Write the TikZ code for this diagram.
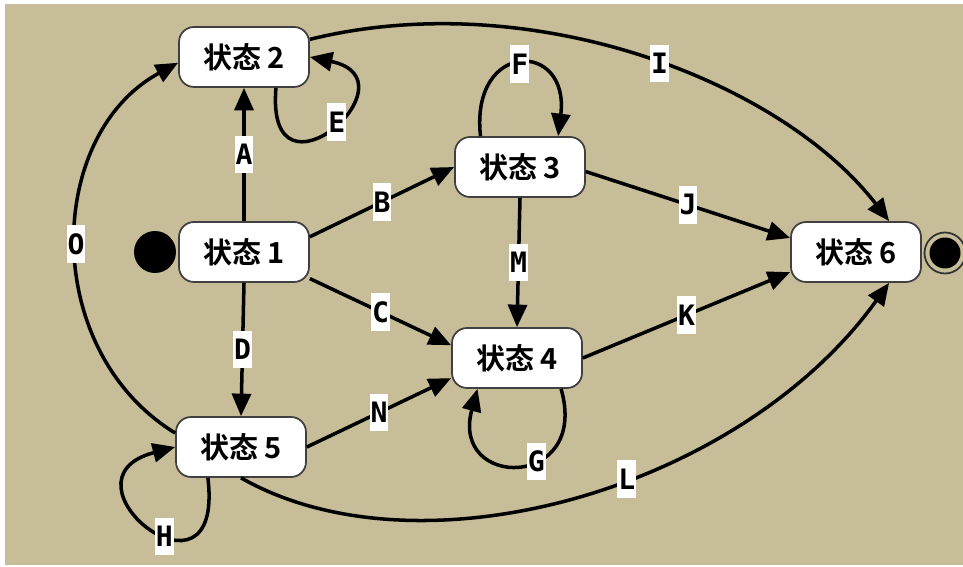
\documentclass[tikz,border=0pt]{standalone}
\usepackage{fontspec}
\usetikzlibrary{arrows.meta}
\newfontfamily\cjk{Noto Sans CJK SC}[BoldFont={* Bold}]
\newfontfamily\lblf{DejaVu Sans Mono}
\definecolor{bgtan}{RGB}{199,189,152}
\begin{document}
\begin{tikzpicture}[x=0.02cm,y=0.02cm,
  state/.style={draw=black!75, line width=1pt, fill=white, rounded corners=0.3cm,
    minimum width=2.6cm, minimum height=1.2cm, inner sep=0pt,
    font=\cjk\bfseries\fontsize{16.5}{18}\selectfont},
  edge/.style={line width=2pt, -{Triangle[length=0.45cm,width=0.38cm]}},
  lbl/.style={fill=white, inner xsep=0.5pt, inner ysep=0pt, minimum height=0.75cm,
    font=\lblf\bfseries\fontsize{16}{18}\selectfont, text=black}
]
\fill[white] (0,0) rectangle (963,-567);
\fill[bgtan] (5,-4) rectangle (963,-565);
\useasboundingbox (0,0) rectangle (963,-567);

\node[state] (s1) at (244,-252) {状态 1};
\node[state] (s2) at (244,-57) {状态 2};
\node[state] (s3) at (520,-167) {状态 3};
\node[state] (s4) at (517,-358) {状态 4};
\node[state] (s5) at (241,-447) {状态 5};
\node[state] (s6) at (856,-252) {状态 6};
\node[circle, fill=black, minimum size=0.84cm, inner sep=0pt] (init) at (155,-252) {};
\node[circle, draw=black!80, line width=1pt, minimum size=0.82cm, inner sep=0pt] (fin) at (945,-253) {};
\node[circle, fill=black, minimum size=0.62cm, inner sep=0pt] (finc) at (fin) {};

\draw[edge] (s1.north) -- node[lbl]{A} (s2.south);
\draw[edge] (s1.13) -- node[lbl]{B} (s3.west);
\draw[edge] (s1.-22) -- node[lbl]{C} (s4.169);
\draw[edge] (s1.south) -- node[lbl]{D} (s5.north);
\draw[edge] (s2.-44) .. controls (265,-215) and (420,-80) .. (s2.east) node[lbl,pos=0.55]{E};
\draw[edge] (s3.142) .. controls (470,-40) and (570,-40) .. (s3.39) node[lbl,pos=0.5]{F};
\draw[edge] (s4.-35) .. controls (590,-490) and (450,-490) .. (s4.218) node[lbl,pos=0.4]{G};
\draw[edge] (s5.223) .. controls (225,-620) and (50,-480) .. (s5.west) node[lbl,pos=0.42]{H};
\draw[edge] (s2.15) .. controls (530,15) and (780,-80) .. (s6.43) node[lbl,pos=0.53]{I};
\draw[edge] (s3.-4) -- node[lbl]{J} (s6.168);
\draw[edge] (s4.east) -- node[lbl]{K} (s6.197);
\draw[edge] (s5.south) .. controls (420,-580) and (740,-490) .. (s6.-43) node[lbl,pos=0.57]{L};
\draw[edge] (s3.south) -- node[lbl]{M} (s4.north);
\draw[edge] (s5.east) -- node[lbl]{N} (s4.197);
\draw[edge] (s5.168) .. controls (40,-350) and (45,-135) .. (s2.185) node[lbl,pos=0.5]{O};
\end{tikzpicture}
\end{document}
